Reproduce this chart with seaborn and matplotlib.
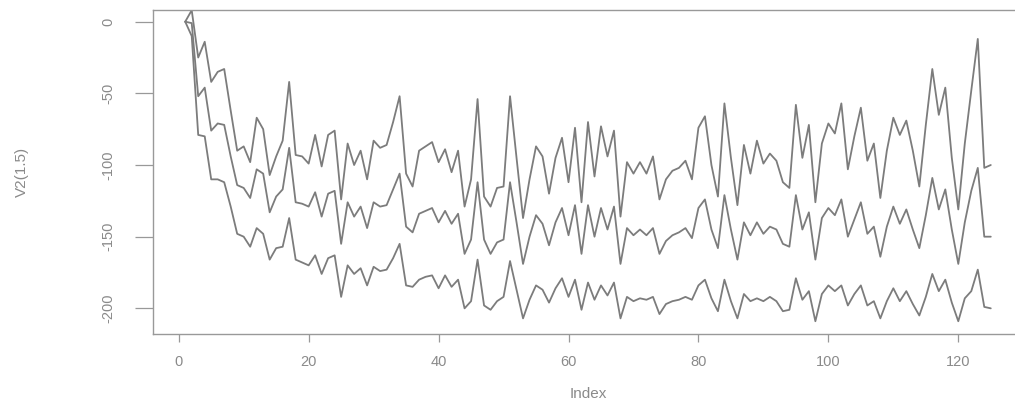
import numpy as np
import pandas as pd
import matplotlib
matplotlib.use("Agg")
import matplotlib.pyplot as plt
import seaborn as sns

# ---- data (index 1..125) ----
index = list(range(1, 126))

upper = [0, 8, -25, -14, -42, -35, -33, -62, -90, -87,
         -98, -67, -75, -107, -94, -83, -42, -93, -94, -99,
         -79, -101, -79, -76, -124, -85, -100, -90, -110, -83,
         -88, -86, -70, -52, -106, -115, -90, -87, -84, -98,
         -89, -105, -90, -129, -110, -54, -122, -129, -116, -115,
         -52, -95, -137, -110, -87, -94, -120, -95, -81, -112,
         -74, -126, -70, -108, -73, -94, -76, -136, -98, -106,
         -98, -106, -94, -124, -110, -104, -102, -97, -110, -74,
         -66, -100, -122, -57, -95, -128, -86, -106, -83, -99,
         -92, -97, -112, -116, -58, -95, -72, -126, -85, -71,
         -78, -57, -103, -80, -60, -97, -85, -123, -90, -67,
         -79, -69, -90, -115, -72, -33, -65, -46, -95, -131,
         -85, -48, -12, -102, -100]

middle = [0, -1, -52, -46, -76, -71, -72, -94, -114, -116,
          -123, -103, -106, -133, -122, -117, -88, -126, -127, -129,
          -119, -136, -120, -118, -155, -126, -136, -129, -144, -126,
          -129, -128, -117, -106, -143, -147, -134, -132, -130, -140,
          -132, -141, -134, -162, -152, -112, -152, -162, -154, -152,
          -112, -140, -169, -150, -135, -141, -156, -140, -130, -149,
          -128, -162, -128, -150, -130, -145, -129, -169, -144, -149,
          -145, -149, -144, -162, -153, -149, -147, -144, -151, -130,
          -124, -145, -158, -121, -145, -166, -140, -149, -140, -148,
          -143, -145, -155, -157, -121, -145, -133, -166, -137, -130,
          -135, -124, -150, -138, -126, -148, -143, -164, -143, -129,
          -141, -131, -145, -158, -135, -109, -131, -117, -145, -169,
          -140, -118, -102, -150, -150]

lower = [0, -10, -79, -80, -110, -110, -112, -129, -148, -150,
         -157, -144, -148, -166, -158, -157, -137, -166, -168, -170,
         -163, -176, -165, -163, -192, -170, -176, -172, -184, -171,
         -174, -173, -165, -155, -184, -185, -180, -178, -177, -186,
         -177, -185, -180, -200, -195, -166, -198, -201, -195, -192,
         -167, -187, -207, -194, -184, -187, -196, -186, -179, -192,
         -180, -201, -182, -194, -184, -191, -182, -207, -192, -195,
         -193, -194, -192, -204, -197, -195, -194, -192, -194, -184,
         -180, -193, -202, -180, -195, -207, -190, -195, -193, -195,
         -192, -195, -202, -201, -179, -194, -188, -209, -190, -184,
         -188, -184, -198, -190, -184, -198, -195, -207, -195, -186,
         -195, -188, -197, -205, -192, -176, -188, -180, -196, -209,
         -193, -188, -173, -199, -200]

series_names = ["upper", "middle", "lower"]
x_ticks = [0, 20, 40, 60, 80, 100, 120]
y_ticks = [0, -50, -100, -150, -200]
x_label = "Index"
y_label = "V2(1.5)"

df = pd.DataFrame({
    "Index": index * 3,
    "value": upper + middle + lower,
    "series": [series_names[0]] * len(index) + [series_names[1]] * len(index)
              + [series_names[2]] * len(index),
})

sns.set_theme(style="white")
plt.rcParams["font.family"] = ["Liberation Sans", "DejaVu Sans"]

W, H = 1015, 408
fig = plt.figure(figsize=(W / 100, H / 100), dpi=100)
left_px, right_px, top_px, bottom_px = 153, 1023, 10, 334
ax = fig.add_axes([left_px / W, 1 - bottom_px / H,
                   (right_px - left_px) / W, (bottom_px - top_px) / H])

line_col = "#7c7c7c"
sns.lineplot(data=df, x="Index", y="value", hue="series", units="series",
             estimator=None, palette=[line_col] * 3, linewidth=1.3,
             legend=False, ax=ax)

ax.set_xlim(-3.96, 129.96)
ax.set_ylim(-217.9, 8.16)
ax.set_xticks(x_ticks)
ax.set_xticklabels([str(v) for v in x_ticks])
ax.set_yticks(y_ticks)
ax.set_yticklabels([str(v) for v in y_ticks])

txt_col = "#8a8a8a"
box_col = "#999999"
for s in ax.spines.values():
    s.set_color(box_col)
    s.set_linewidth(1.0)
    s.set_visible(True)

ax.tick_params(axis="x", direction="out", length=5.8, width=0.9, color=box_col,
               labelcolor=txt_col, labelsize=10.5, pad=9, bottom=True)
ax.tick_params(axis="y", direction="out", length=13, width=0.9, color=box_col,
               labelcolor=txt_col, labelsize=10.5, pad=14, left=True,
               labelrotation=90)
for lab in ax.get_yticklabels():
    lab.set_va("center")

ax.set_xlabel(x_label, color=txt_col, fontsize=11, va="center")
ax.set_ylabel(y_label, color=txt_col, fontsize=11, va="center")
ax.xaxis.set_label_coords(0.5, (bottom_px - 394) / (bottom_px - top_px))
ax.yaxis.set_label_coords((22 - left_px) / (right_px - left_px), 0.5)
ax.grid(False)

fig.savefig("out.png", dpi=100)
